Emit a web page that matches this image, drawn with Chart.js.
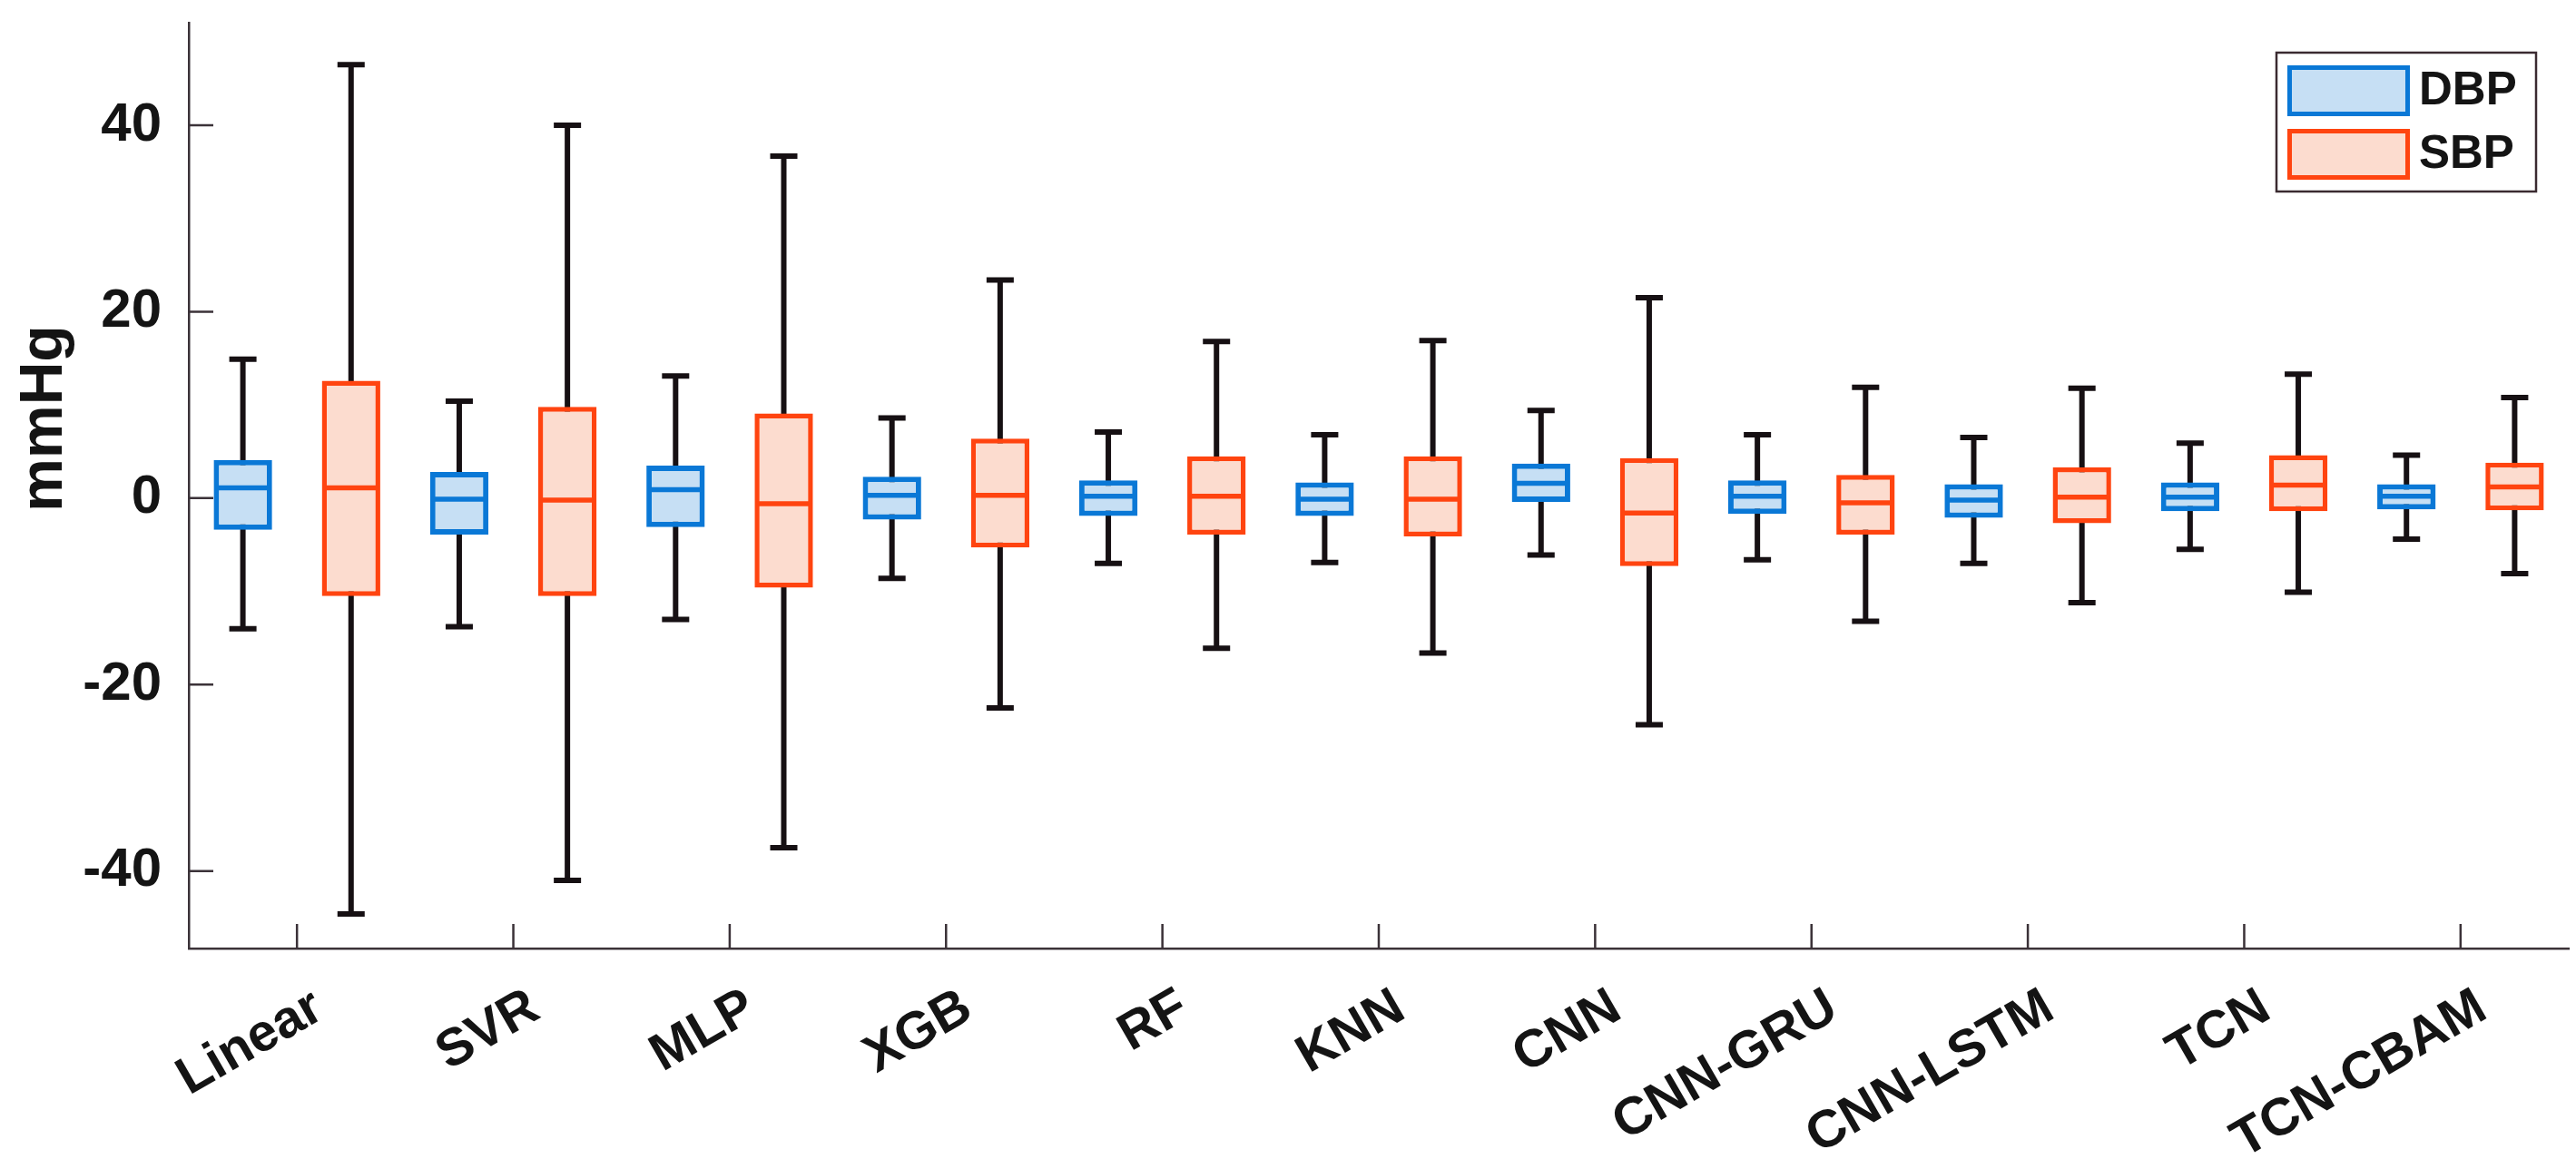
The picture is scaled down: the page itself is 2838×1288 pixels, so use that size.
<!DOCTYPE html>
<html>
<head>
<meta charset="utf-8">
<title>DBP / SBP error boxplot</title>
<script src="https://cdn.jsdelivr.net/npm/chart.js@4.4.1/dist/chart.umd.min.js"></script>
<style>
    html, body { margin: 0; padding: 0; background: #fff; }
    #wrap { width: 2838px; height: 1288px; position: relative; }
</style>
</head>
<body>
<div id="wrap"><canvas id="boxChart"></canvas></div>
<script>
// Models on the x axis
const models = ["Linear", "SVR", "MLP", "XGB", "RF", "KNN", "CNN", "CNN-GRU", "CNN-LSTM", "TCN", "TCN-CBAM"];

// DBP error (mmHg)
const dbpMin    = [-14.0, -13.8, -13.0, -8.6, -7.0, -6.9, -6.1, -6.6, -7.0, -5.5, -4.4];
const dbpQ1     = [-3.4, -3.9, -3.1, -2.3, -1.9, -1.9, -0.4, -1.7, -2.1, -1.4, -1.2];
const dbpMedian = [1.1, -0.1, 0.9, 0.3, 0.2, -0.1, 1.6, 0.2, -0.2, 0.1, 0.2];
const dbpQ3     = [4.1, 2.8, 3.5, 2.3, 1.9, 1.7, 3.7, 1.9, 1.5, 1.7, 1.5];
const dbpMax    = [14.9, 10.4, 13.1, 8.6, 7.1, 6.8, 9.4, 6.8, 6.5, 5.9, 4.6];

// SBP error (mmHg)
const sbpMin    = [-44.6, -41.0, -37.5, -22.5, -16.1, -16.6, -24.3, -13.2, -11.2, -10.1, -8.1];
const sbpQ1     = [-10.5, -10.5, -9.6, -5.3, -3.9, -4.1, -7.3, -3.9, -2.7, -1.4, -1.3];
const sbpMedian = [1.1, -0.2, -0.6, 0.3, 0.2, -0.1, -1.6, -0.5, 0.1, 1.4, 1.2];
const sbpQ3     = [12.6, 9.8, 9.1, 6.4, 4.5, 4.5, 4.3, 2.5, 3.3, 4.6, 3.8];
const sbpMax    = [46.5, 40.0, 36.7, 23.4, 16.8, 16.9, 21.5, 11.9, 11.8, 13.3, 10.8];

// y axis tick labels
const yTicks = [-40, -20, 0, 20, 40];

const AXIS_COLOR = "#3b3238";
const TEXT_COLOR = "#141414";
const WHISKER_COLOR = "#161013";

Chart.defaults.font.family = '"Liberation Sans", Arial, sans-serif';

// whiskers, caps, medians, inward ticks, y title and legend
const boxExtras = {
    id: "boxExtras",
    beforeDatasetsDraw(chart) {
        const ctx = chart.ctx;
        const x = chart.scales.x, y = chart.scales.y;
        const area = chart.chartArea;

        // MATLAB style inward tick marks
        ctx.save();
        ctx.strokeStyle = AXIS_COLOR;
        ctx.lineWidth = 2.5;
        ctx.beginPath();
        x.ticks.forEach((t, i) => {
            const px = x.getPixelForTick(i);
            ctx.moveTo(px, area.bottom);
            ctx.lineTo(px, area.bottom - 27);
        });
        yTicks.forEach(v => {
            const py = y.getPixelForValue(v);
            ctx.moveTo(area.left, py);
            ctx.lineTo(area.left + 27, py);
        });
        ctx.stroke();

        // whiskers with caps
        ctx.strokeStyle = WHISKER_COLOR;
        ctx.lineWidth = 6;
        chart.data.datasets.forEach((ds, i) => {
            chart.getDatasetMeta(i).data.forEach((bar, j) => {
                const lo = y.getPixelForValue(ds.low[j]);
                const hi = y.getPixelForValue(ds.high[j]);
                ctx.beginPath();
                ctx.moveTo(bar.x, lo);
                ctx.lineTo(bar.x, hi);
                ctx.moveTo(bar.x - 15, lo);
                ctx.lineTo(bar.x + 15, lo);
                ctx.moveTo(bar.x - 15, hi);
                ctx.lineTo(bar.x + 15, hi);
                ctx.stroke();
            });
        });
        ctx.restore();
    },
    afterDatasetsDraw(chart) {
        const ctx = chart.ctx;
        const y = chart.scales.y;
        ctx.save();
        ctx.lineWidth = 5.5;
        chart.data.datasets.forEach((ds, i) => {
            ctx.strokeStyle = ds.borderColor;
            chart.getDatasetMeta(i).data.forEach((bar, j) => {
                const py = y.getPixelForValue(ds.median[j]);
                ctx.beginPath();
                ctx.moveTo(bar.x - bar.width / 2 + 2, py);
                ctx.lineTo(bar.x + bar.width / 2 - 2, py);
                ctx.stroke();
            });
        });
        ctx.restore();
    },
    afterDraw(chart) {
        const ctx = chart.ctx;

        // y axis title
        ctx.save();
        ctx.translate(68, 461);
        ctx.rotate(-Math.PI / 2);
        ctx.fillStyle = TEXT_COLOR;
        ctx.font = 'bold 66px "Liberation Sans", Arial, sans-serif';
        ctx.textAlign = "center";
        ctx.textBaseline = "alphabetic";
        ctx.fillText("mmHg", 0, 0);
        ctx.restore();

        // legend box, top right inside the axes
        ctx.save();
        ctx.strokeStyle = "#3a2a30";
        ctx.lineWidth = 2.5;
        ctx.strokeRect(2508, 58, 286, 153);
        ctx.font = 'bold 51px "Liberation Sans", Arial, sans-serif';
        ctx.textBaseline = "middle";
        ctx.textAlign = "left";
        const rows = [72, 142];
        chart.data.datasets.forEach((ds, i) => {
            const top = rows[i];
            ctx.fillStyle = ds.backgroundColor;
            ctx.fillRect(2522, top + 2, 131, 52);
            ctx.strokeStyle = ds.borderColor;
            ctx.lineWidth = 5;
            ctx.strokeRect(2522.5, top + 2.5, 130, 51);
            ctx.fillStyle = TEXT_COLOR;
            ctx.fillText(ds.label, 2665, top + 29);
        });
        ctx.restore();
    }
};

const ctx = document.getElementById("boxChart").getContext("2d");
const boxChart = new Chart(ctx, {
    type: "bar",
    data: {
        labels: models,
        datasets: [
            {
                label: "DBP",
                data: models.map((m, i) => [dbpQ1[i], dbpQ3[i]]),
                low: dbpMin,
                high: dbpMax,
                median: dbpMedian,
                backgroundColor: "#c6dff4",
                borderColor: "#0a78d6",
                borderWidth: 6,
                borderSkipped: false
            },
            {
                label: "SBP",
                data: models.map((m, i) => [sbpQ1[i], sbpQ3[i]]),
                low: sbpMin,
                high: sbpMax,
                median: sbpMedian,
                backgroundColor: "#fcdccf",
                borderColor: "#ff4410",
                borderWidth: 5.5,
                borderSkipped: false
            }
        ]
    },
    options: {
        responsive: true,
        maintainAspectRatio: false,
        animation: false,
        events: [],
        categoryPercentage: 1.0,
        barPercentage: 0.54,
        layout: { padding: { left: 0, top: 25, right: 8, bottom: 0 } },
        plugins: {
            legend: { display: false },
            tooltip: { enabled: false }
        },
        scales: {
            x: {
                type: "category",
                offset: true,
                grid: { display: false },
                border: { display: true, color: AXIS_COLOR, width: 2.5 },
                ticks: {
                    color: TEXT_COLOR,
                    font: { size: 58, weight: "bold" },
                    minRotation: 30,
                    maxRotation: 30,
                    autoSkip: false,
                    padding: 23,
                    labelOffset: 24
                },
                afterFit(scale) {
                    scale.height = 243;
                    scale.paddingLeft = 0;
                    scale.paddingRight = 0;
                }
            },
            y: {
                type: "linear",
                min: -48.3,
                max: 51,
                grid: { display: false },
                border: { display: true, color: AXIS_COLOR, width: 2.5 },
                ticks: {
                    color: TEXT_COLOR,
                    font: { size: 60, weight: "bold" },
                    padding: 22
                },
                afterBuildTicks(scale) { scale.ticks = yTicks.map(v => ({ value: v })); },
                afterFit(scale) {
                    scale.width = 208;
                    scale.paddingTop = 0;
                    scale.paddingBottom = 0;
                }
            }
        }
    },
    plugins: [boxExtras]
});
</script>
</body>
</html>
